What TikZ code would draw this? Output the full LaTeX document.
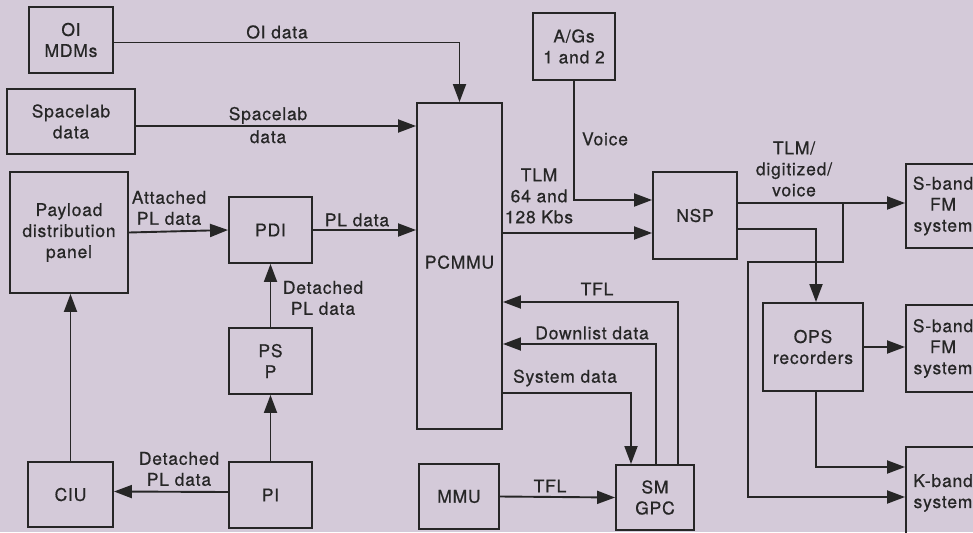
\documentclass[tikz,border=0pt]{standalone}
\usepackage{fontspec}
\setmainfont{TeX Gyre Heros}[LetterSpace=4.5, FakeBold=0.6]
\usetikzlibrary{arrows.meta,calc}
\definecolor{bg}{HTML}{D4CAD9}
\definecolor{ink}{HTML}{262626}
\newcommand\diagfont{\fontsize{17.5}{21}\selectfont}
\begin{document}
\begin{tikzpicture}[x=1pt,y=-1pt,
  box/.style={draw=ink, line width=1.9pt, inner sep=0pt, align=center, text=ink, font=\diagfont},
  lbl/.style={inner sep=0pt, align=center, text=ink, font=\diagfont},
  conn/.style={draw=ink, line width=1.9pt, -{Triangle[length=18pt,width=13pt]}},
  wire/.style={draw=ink, line width=1.9pt}]
\path[use as bounding box, fill=bg] (0,0) rectangle (973,532);
\clip (0,0) rectangle (973,532);

% boxes
\node[box, minimum width=84, minimum height=66] (oi) at (71,40) {OI\\MDMs};
\node[box, minimum width=128, minimum height=65] (sl) at (71,121.5) {Spacelab\\data};
\node[box, minimum width=118, minimum height=121] (pdp) at (69,232.5) {Payload\\distribution\\panel};
\node[box, minimum width=83, minimum height=66] (pdi) at (270.5,230) {PDI};
\node[box, minimum width=83, minimum height=66] (psp) at (270.5,361) {PS\\P};
\node[box, minimum width=83, minimum height=66] (pi) at (270.5,495) {PI};
\node[box, minimum width=85, minimum height=65] (ciu) at (70.5,494.5) {CIU};
\node[box, minimum width=85, minimum height=326] (pcmmu) at (459.5,266) {\raisebox{8pt}{PCMMU}};
\node[box, minimum width=82, minimum height=67] (ag) at (574,46.5) {A/Gs\\1 and 2};
\node[box, minimum width=84, minimum height=87] (nsp) at (695,215.5) {NSP};
\node[box, minimum width=80, minimum height=65] (mmu) at (459,496.5) {MMU};
\node[box, minimum width=78, minimum height=65] (sm) at (655,497.5) {SM\\GPC};
\node[box, minimum width=100, minimum height=88] (ops) at (813,347) {OPS\\recorders};
\node[box, minimum width=74, minimum height=84] (s1) at (943,206) {S-band\\FM\\system};
\node[box, minimum width=74, minimum height=87] (s2) at (943,348.5) {S-band\\FM\\system};
\node[box, minimum width=74, minimum height=92] (kb) at (943,493) {K-band\\system};

% helper coordinates
\coordinate (oiout) at ($(oi.east)+(0,2.5)$);
\coordinate (slout) at ($(sl.east)+(0,4.5)$);
\coordinate (nspin1) at ($(nsp.west)+(0,-15.5)$);
\coordinate (nspin2) at ($(nsp.west)+(0,17.5)$);
\coordinate (nspout1) at ($(nsp.east)+(0,-12.5)$);
\coordinate (nspout2) at ($(nsp.east)+(0,13.5)$);
\coordinate (jn) at (843,203);
\coordinate (jb) at (843,262);
\coordinate (jc) at (748,262);
\coordinate (kin2) at ($(kb.west)+(0,4)$);
\coordinate (kin1) at ($(kb.west)+(0,-26)$);
\coordinate (opsdown) at ($(ops.south)+(3,0)$);
\coordinate (opsin) at ($(ops.north)+(3,0)$);
\coordinate (tflup) at ($(sm.north)+(23,0)$);
\coordinate (dlup) at ($(sm.north)+(1,0)$);
\coordinate (sysin) at ($(sm.north)+(-24,0)$);
\coordinate (tflrow) at (0,302);
\coordinate (dlrow) at (0,344);
\coordinate (sysrow) at (0,393);
\coordinate (agdown) at (ag.south);

% connectors
\draw[conn] (oiout) -| (pcmmu.north);
\draw[conn] (slout) -- (slout -| pcmmu.west);
\draw[conn] (pdp.east) -- (pdi.west);
\draw[conn] (pdi.east) -- (pdi.east -| pcmmu.west);
\draw[conn] (psp.north) -- (pdi.south);
\draw[conn] (pi.north) -- (psp.south);
\draw[conn] ([yshift=3pt]pi.west) -- ([yshift=3pt]ciu.east);
\draw[conn] (ciu.north) -- (ciu.north |- pdp.south);
\draw[conn] (agdown) |- (nspin1);
\draw[conn] (nspin2 -| pcmmu.east) -- (nspin2);
\draw[conn] (nspout1) -- (nspout1 -| s1.west);
\draw[conn] (jn) -- (jb) -- (jc) |- (kin2);
\draw[conn] (nspout2) -| (opsin);
\draw[conn] (ops.east) -- (ops.east -| s2.west);
\draw[conn] (opsdown) |- (kin1);
\draw[conn] (tflup) |- (tflrow -| pcmmu.east);
\draw[conn] (dlup) |- (dlrow -| pcmmu.east);
\draw[conn] (sysrow -| pcmmu.east) -| (sysin);
\draw[conn] (mmu.east) -- (sm.west);

% connector labels
\node[lbl] (l1) at (277,32) {OI data};
\node[lbl, text depth=0pt] (l2) at (268,125) {Spacelab\\[2pt]data};
\node[lbl] (l3) at (169,208) {Attached\\PL data};
\node[lbl] (l4) at (357,220) {PL data};
\node[lbl] (l5) at (323,298) {Detached\\PL data};
\node[lbl] (l6) at (179,469) {Detached\\PL data};
\node[lbl] (l7) at (605,139) {Voice};
\node[lbl] (l8) at (539,196) {TLM\\64 and\\128 Kbs};
\node[lbl] (l9) at (597,289) {TFL};
\node[lbl] (l10) at (592,333) {Downlist data};
\node[lbl] (l11) at (565,378) {System data};
\node[lbl] (l12) at (550,486) {TFL};
\node[lbl] (l13) at (794,169) {TLM/\\digitized/\\voice};
\end{tikzpicture}
\end{document}
